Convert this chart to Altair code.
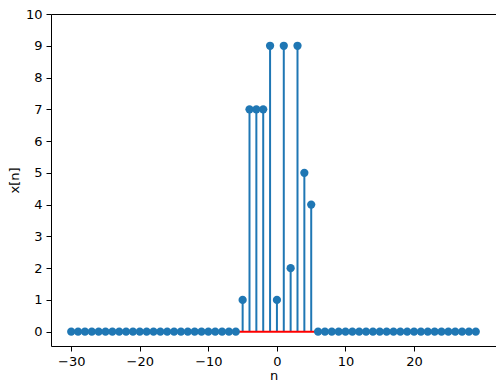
import altair as alt
import pandas as pd

n_vals = list(range(-30, 30))
nonzero = {-5: 1, -4: 7, -3: 7, -2: 7, -1: 9, 0: 1, 1: 9, 2: 2, 3: 9, 4: 5, 5: 4}
x_vals = [nonzero.get(n, 0) for n in n_vals]

df = pd.DataFrame({"n": n_vals, "x": x_vals, "zero": [0] * len(n_vals)})
base_df = pd.DataFrame({"n0": [min(n_vals)], "n1": [max(n_vals)], "y": [0]})

xs = alt.Scale(domain=[-32.95, 31.95], nice=False, zero=False)
ys = alt.Scale(domain=[-0.45, 10], nice=False, zero=False)

common = dict(grid=False, tickColor="black", domain=False, tickSize=5,
              labelColor="black", labelFontSize=13, titleFontSize=13,
              titleFontWeight="normal", titleColor="black",
              labelFont="DejaVu Sans", titleFont="DejaVu Sans",
              labelOverlap=False, labelPadding=4)
xaxis = alt.Axis(values=[-30, -20, -10, 0, 10, 20], titlePadding=1, **common)
yaxis = alt.Axis(values=list(range(0, 11)), titlePadding=4, **common)

stems = alt.Chart(df).mark_rule(color="#1f77b4", strokeWidth=2).encode(
    x=alt.X("n:Q", scale=xs, axis=xaxis, title="n"),
    y=alt.Y("zero:Q", scale=ys, axis=yaxis, title="x[n]"),
    y2="x:Q",
)

baseline = alt.Chart(base_df).mark_rule(color="red", strokeWidth=2).encode(
    x=alt.X("n0:Q", scale=xs, axis=xaxis, title="n"),
    x2="n1:Q",
    y=alt.Y("y:Q", scale=ys, axis=yaxis, title="x[n]"),
)

points = alt.Chart(df).mark_circle(color="#1f77b4", size=68, opacity=1).encode(
    x=alt.X("n:Q", scale=xs, axis=xaxis, title="n"),
    y=alt.Y("x:Q", scale=ys, axis=yaxis, title="x[n]"),
)

chart = alt.layer(stems, baseline, points).properties(
    width=445, height=332,
    autosize=alt.AutoSizeParams(type="none"),
    padding={"left": 43, "top": 6, "right": 0, "bottom": 38},
).configure(background="white").configure_view(stroke="black", strokeWidth=1)

chart.save("out.html", embed_options={"renderer": "svg", "actions": False})
